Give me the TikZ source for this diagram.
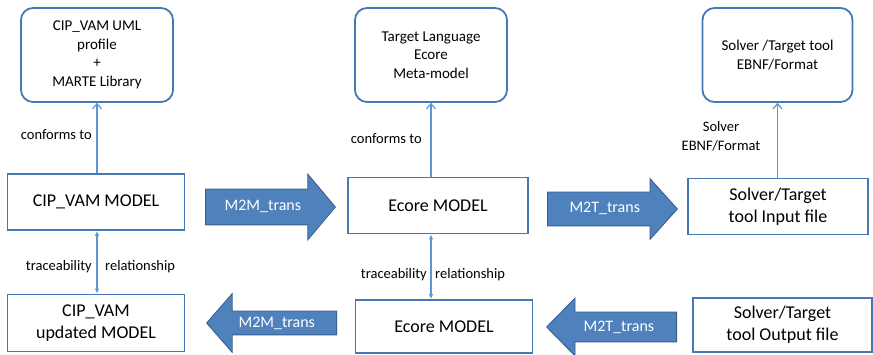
\documentclass[tikz,border=0pt]{standalone}
\usepackage{fontspec}
\setmainfont{Carlito}
\usetikzlibrary{arrows.meta,shapes.arrows,positioning}
\definecolor{boxblue}{RGB}{70,120,180}
\definecolor{linkblue}{RGB}{91,150,210}
\definecolor{arrowfill}{RGB}{79,129,189}
\definecolor{arrowdraw}{RGB}{56,93,138}

\begin{document}
\begin{tikzpicture}[x=1pt,y=-1pt,>=Stealth,
  metabox/.style={draw=boxblue,line width=1.8pt,rounded corners=12pt,minimum width=150pt,
    minimum height=94pt,inner sep=0pt,align=center,font=\fontsize{15}{18.5}\selectfont},
  modelbox/.style={draw=boxblue,line width=1.8pt,minimum width=177pt,minimum height=56pt,
    inner sep=0pt,align=center,font=\fontsize{18}{22}\selectfont},
  transarrow/.style={single arrow,fill=arrowfill,draw=arrowdraw,line width=0.8pt,text=white,
    font=\fontsize{16}{18}\selectfont,text height=11pt,text depth=3pt,inner xsep=4pt,
    minimum height=130pt},
  conf/.style={draw=linkblue,line width=1.2pt,-{Straight Barb[length=5pt,width=9pt]}},
  trace/.style={draw=linkblue,line width=1.2pt,{Latex[length=5pt,width=4.5pt]}-{Latex[length=5pt,width=4.5pt]}},
  lbl/.style={font=\fontsize{14.5}{19}\selectfont,inner sep=0pt,align=center}]
  \useasboundingbox (0,0) rectangle (873,355);

  % meta-models
  \node[metabox,minimum width=152pt] (cmeta) at (97,55) {CIP\_VAM UML\\profile\\+\\MARTE Library};
  \node[metabox,minimum width=152pt] (tmeta) at (431,55) {Target Language\\Ecore\\Meta-model};
  \node[metabox] (smeta) at (777.5,55) {Solver /Target tool\\EBNF/Format};

  % models
  \node[modelbox] (cmod) at (96,202) {CIP\_VAM MODEL};
  \node[modelbox,minimum width=180pt] (emod) at (438,205.5) {Ecore MODEL};
  \node[modelbox,minimum width=180pt] (sin) at (778,206.5) {Solver/Target\\tool Input file};
  \node[modelbox,minimum height=57pt] (cupd) at (96,323) {CIP\_VAM\\updated MODEL};
  \node[modelbox,minimum height=53pt] (ebot) at (444,326.5) {Ecore MODEL};
  \node[modelbox,minimum width=179pt,minimum height=54pt] (sout) at (782.5,325) {Solver/Target\\tool Output file};

  % transformations
  \node[transarrow,anchor=tail,inner ysep=10.5pt,single arrow head extend=15pt,
    single arrow tip angle=100] (m2m) at (205,207) {M2M\_trans};
  \node[transarrow,anchor=tail,inner ysep=9.5pt,single arrow head extend=13.5pt,
    single arrow tip angle=96] (m2t) at (547,209) {M2T\_trans};
  \node[transarrow,shape border rotate=180,anchor=tail,inner ysep=4.5pt,
    single arrow head extend=17.5pt,single arrow tip angle=98] (m2mb) at (337,323) {M2M\_trans};
  \node[transarrow,shape border rotate=180,anchor=tail,inner ysep=7.5pt,
    single arrow head extend=14pt,single arrow tip angle=91] (m2tb) at (677,327) {M2T\_trans};

  % relations
  \draw[conf] (cmeta.south |- cmod.north) -- (cmeta.south);
  \draw[conf] (tmeta.south |- emod.north) -- (tmeta.south);
  \draw[conf] (smeta.south |- sin.north) -- (smeta.south);
  \draw[trace] (cmeta.south |- cmod.south) -- (cmeta.south |- cupd.north);
  \draw[trace] (tmeta.south |- emod.south) -- (tmeta.south |- ebot.north);

  \node[lbl,anchor=east] (conf1) at (92,135) {conforms to};
  \node[lbl,anchor=east] (conf2) at (422,139) {conforms to};
  \node[lbl] (conf3) at (721,136) {Solver\\EBNF/Format};
  \node[lbl,anchor=east] (tr1) at (92,267) {traceability};
  \node[lbl,anchor=west] (rel1) at (105,267) {relationship};
  \node[lbl,anchor=east] (tr2) at (427,275) {traceability};
  \node[lbl,anchor=west] (rel2) at (435,275) {relationship};
\end{tikzpicture}
\end{document}
